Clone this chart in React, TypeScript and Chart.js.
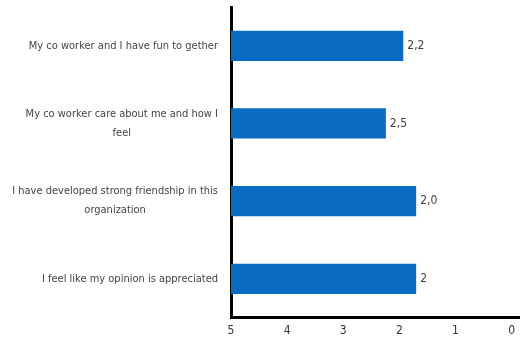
import React, { useEffect, useRef } from "react";
import { Chart, registerables } from "chart.js";

Chart.register(...registerables);

const categories: string[][] = [
  ["My co worker and I have fun to gether"],
  ["My co worker care about me and how I", "feel"],
  ["I have developed strong friendship in this", "organization"],
  ["I feel like my opinion is appreciated"],
];
const barEnds: number[] = [1.93, 2.24, 1.7, 1.7];
const valueLabels: string[] = ["2,2", "2,5", "2,0", "2"];
const axisStart = 5;

const FONT = "'DejaVu Sans Condensed', 'DejaVu Sans', sans-serif";

const labelPlugin = {
  id: "customLabels",
  afterDraw(chart: any) {
    const ctx = chart.ctx;
    const yScale = chart.scales.y;
    const meta = chart.getDatasetMeta(0);
    const right = chart.chartArea.left - 13;
    ctx.save();
    ctx.font = `11px ${FONT}`;
    ctx.fillStyle = "#444444";
    ctx.textBaseline = "middle";
    ctx.textAlign = "center";
    categories.forEach((lines, i) => {
      const cy = yScale.getPixelForValue(i);
      const w = Math.max(...lines.map((l) => ctx.measureText(l).width));
      const cx = right - w / 2;
      const lh = 19;
      lines.forEach((l, j) => {
        ctx.fillText(l, cx, cy + (j - (lines.length - 1) / 2) * lh);
      });
    });
    ctx.font = `12px ${FONT}`;
    ctx.textAlign = "left";
    ctx.fillStyle = "#404040";
    meta.data.forEach((el: any, i: number) => {
      const endX = Math.max(el.x, el.base);
      ctx.fillText(valueLabels[i], endX + 4, el.y);
    });
    ctx.restore();
  },
};

export default function App() {
  const ref = useRef<HTMLCanvasElement>(null);
  useEffect(() => {
    document.body.style.margin = "0";
    const chart = new Chart(ref.current!, {
      type: "bar",
      data: {
        labels: categories,
        datasets: [
          {
            data: barEnds.map((v) => [axisStart, v]) as any,
            backgroundColor: "#0B6BC0",
            borderWidth: 0,
            barPercentage: 0.39,
            categoryPercentage: 1,
          },
        ],
      },
      options: {
        indexAxis: "y",
        responsive: false,
        animation: false,
        layout: { padding: { left: 223, top: 7, right: 0, bottom: 1 } },
        plugins: { legend: { display: false }, tooltip: { enabled: false } },
        scales: {
          y: {
            ticks: { display: false },
            grid: { display: false },
            border: { display: true, color: "#000", width: 3 },
          },
          x: {
            reverse: true,
            min: -0.14,
            max: 5,
            grid: { display: false, drawTicks: false },
            border: { display: true, color: "#000", width: 3 },
            ticks: {
              stepSize: 1,
              includeBounds: false,
              padding: 6,
              color: "#333",
              font: { size: 12, family: FONT },
            },
          },
        },
      },
      plugins: [labelPlugin],
    });
    return () => chart.destroy();
  }, []);
  return (
    <div style={{ width: 521, height: 345 }}>
      <canvas ref={ref} width={521} height={345} />
    </div>
  );
}
